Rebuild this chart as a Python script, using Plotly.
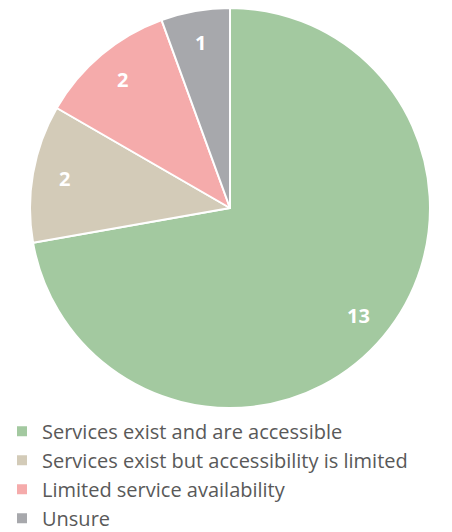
import math
import plotly.graph_objects as go

categories = ["Services exist and are accessible",
              "Services exist but accessibility is limited",
              "Limited service availability",
              "Unsure"]
values = [13, 2, 2, 1]
colors = ["#a3c9a0", "#d3cbb8", "#f5abab", "#a7a8ac"]

fig = go.Figure(go.Pie(
    labels=categories,
    values=values,
    sort=False,
    direction="clockwise",
    rotation=0,
    marker=dict(colors=colors, line=dict(color="white", width=2)),
    textinfo="none",
    hoverinfo="label+value",
    domain=dict(x=[0, 1], y=[0, 1]),
))

# value labels placed near the outer part of each slice (computed from the data)
total = sum(values)
label_r = 0.84
cum = 0.0
annotations = []
for v in values:
    mid = (cum + v / 2) / total * 2 * math.pi
    cum += v
    annotations.append(dict(
        x=0.5 + label_r * 0.5 * math.sin(mid),
        y=0.5 + label_r * 0.5 * math.cos(mid),
        xref="paper", yref="paper",
        xanchor="center", yanchor="middle",
        text=str(v), showarrow=False,
        font=dict(color="white", size=20, family="Open Sans", weight="bold"),
    ))

fig.update_layout(
    width=452, height=532,
    margin=dict(l=30, r=22, t=8, b=124, autoexpand=False),
    paper_bgcolor="white",
    plot_bgcolor="white",
    font=dict(family="Open Sans", color="#595959"),
    annotations=annotations,
    legend=dict(
        orientation="v",
        xref="container", yref="container",
        x=0.0044, y=0.2260, xanchor="left", yanchor="top",
        font=dict(size=20, color="#595959", family="Open Sans"),
        tracegroupgap=0,
        itemwidth=30,
    ),
    showlegend=True,
)

fig.write_html("out.html")
